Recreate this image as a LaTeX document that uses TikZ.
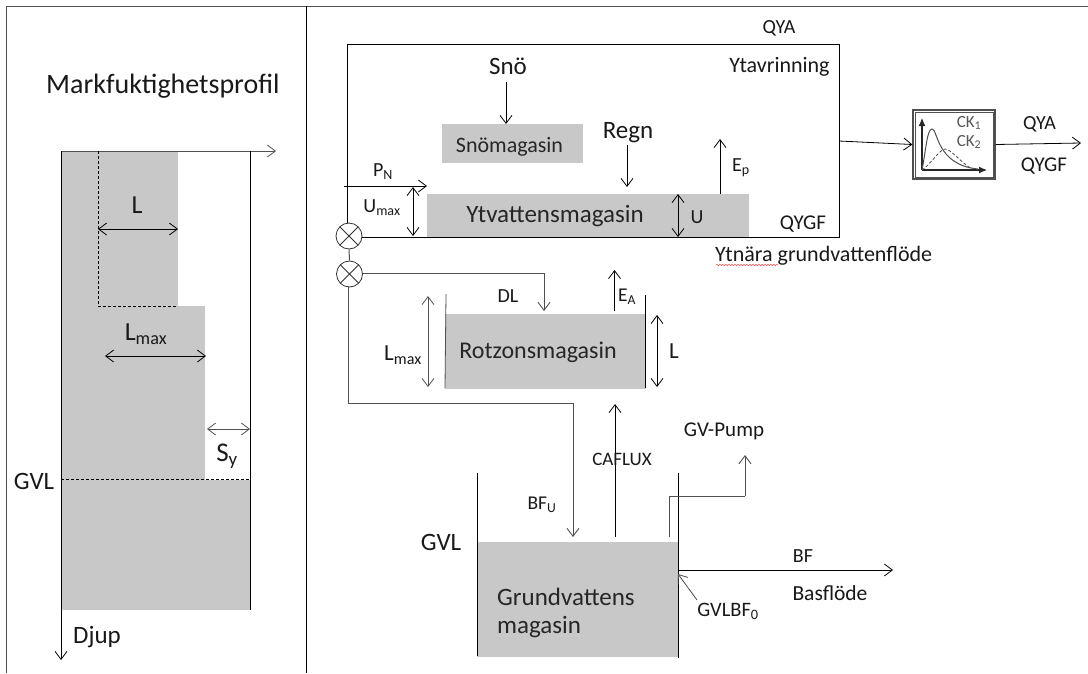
\documentclass[tikz,border=0pt]{standalone}
\usepackage{fontspec}
\setmainfont{Carlito}
\usetikzlibrary{arrows.meta,decorations.pathmorphing}
\definecolor{fillgray}{HTML}{C8C8C8}
\definecolor{linegray}{HTML}{505050}
\newcommand{\fs}[1]{\fontsize{#1}{#1}\selectfont}
\tikzset{
  x=1pt,y=-1pt,
  ln/.style={draw=black,line width=0.8pt},
  gln/.style={draw=linegray,line width=1pt},
  arr/.style={ln,-{Straight Barb[length=8pt,width=12pt,line width=0.8pt]}},
  darr/.style={ln,{Straight Barb[length=8pt,width=12pt,line width=0.8pt]}-{Straight Barb[length=8pt,width=12pt,line width=0.8pt]}},
  garr/.style={gln,-{Straight Barb[length=8pt,width=12pt,line width=0.9pt]}},
  store/.style={fill=fillgray,draw=none,inner sep=0pt,text=black!85},
  lab/.style={inner sep=0pt,text=black!90},
  mix/.style={circle,draw=black!80,line width=0.8pt,fill=white,minimum size=26pt,inner sep=0pt,
    path picture={\draw[black!80,line width=0.8pt]
      (path picture bounding box.north west)--(path picture bounding box.south east)
      (path picture bounding box.north east)--(path picture bounding box.south west);}},
}
\begin{document}
\begin{tikzpicture}
\useasboundingbox (0,0) rectangle (1088,673);
\fill[white] (0,0) rectangle (1088,673);
% frame
\coordinate (f1) at (6,673); \coordinate (f2) at (6,6); \coordinate (f3) at (1088,6);
\draw[linegray,line width=0.9pt] (f1)--(f2)--(f3);
\coordinate (d1) at (306,6); \coordinate (d2) at (306,673);
\draw[ln] (d1)--(d2);
% soil profile
\fill[fillgray] (61,151) rectangle (178,306);
\fill[fillgray] (61,306) rectangle (205,480);
\fill[fillgray] (61,480) rectangle (250,610);
\coordinate (pa) at (61,151); \coordinate (pb) at (276,151); \coordinate (pc) at (61,660);
\draw[arr,draw=linegray] (pa)--(pb);
\draw[arr] (pa)--(pc);
\coordinate (pr1) at (250,151); \coordinate (pr2) at (250,610);
\draw[ln] (pr1)--(pr2);
\coordinate (q1) at (98,151); \coordinate (q2) at (98,306); \coordinate (q3) at (178,306);
\draw[ln,densely dashed,line width=0.6pt] (q1)--(q2)--(q3);
\coordinate (g1) at (61,479); \coordinate (g2) at (250,479);
\draw[ln,densely dashed,line width=0.6pt] (g1)--(g2);
\coordinate (l1) at (98,229); \coordinate (l2) at (178,229);
\draw[darr] (l1)--(l2);
\coordinate (m1) at (105,356); \coordinate (m2) at (206,356);
\draw[darr] (m1)--(m2);
\coordinate (s1) at (207,429); \coordinate (s2) at (250,429);
\draw[darr,draw=linegray] (s1)--(s2);
\node[lab,anchor=base west,font=\fs{28}] (title) at (46,93) {Markfuktighetsprofil};
\node[lab,font=\fs{26}] (tL) at (137,205) {L};
\node[lab,font=\fs{26}] (tLm) at (146,334) {L\textsubscript{max}};
\node[lab,font=\fs{27}] (tSy) at (227,456) {S\textsubscript{y}};
\node[lab,font=\fs{25}] (tG) at (34,481) {GVL};
\node[lab,anchor=west,font=\fs{25}] (tD) at (73,637) {Djup};
% surface box
\node[store,minimum width=141pt,minimum height=39pt] (snomag) at (512.5,143.5) {};
\node[lab,font=\fs{22},text=black!85] (snotxt) at (509.5,147) {Snömagasin};
\node[store,minimum width=322pt,minimum height=43pt] (yt) at (588,215.5) {};
\node[lab,font=\fs{25},text=black!85] (yttxt) at (555,216) {Ytvattensmagasin};
\coordinate (b1) at (347,231); \coordinate (b2) at (347,44); \coordinate (b3) at (839,44); \coordinate (b4) at (839,237); \coordinate (b5) at (350,237);
\draw[ln,line width=0.9pt] (b1)--(b2)--(b3)--(b4)--(b5);
\node[mix] (x1) at (349,236) {};
\node[mix] (x2) at (349.5,274) {};
\draw[gln] (x1)--(x2);
\node[lab,font=\fs{20}] (qya) at (779,28) {QYA};
\node[lab,font=\fs{22}] (ytav) at (779.5,67) {Ytavrinning};
\node[lab,font=\fs{21}] (qygf) at (803,224) {QYGF};
\node[lab,anchor=west,font=\fs{22}] (ytn) at (715,256) {Ytnära grundvattenflöde};
\coordinate (wv1) at (716,265); \coordinate (wv2) at (778,265);
\draw[red!70,line width=0.5pt,decorate,decoration={snake,amplitude=0.7pt,segment length=3pt}] (wv1)--(wv2);
\node[lab,font=\fs{25}] (sno) at (508,66) {Snö};
\coordinate (sa) at (506,82); \coordinate (sb) at (506,124);
\draw[arr] (sa)--(sb);
\node[lab,font=\fs{25}] (regn) at (628,133) {Regn};
\coordinate (ra) at (627,145); \coordinate (rb) at (627,187);
\draw[arr] (ra)--(rb);
\coordinate (ea) at (720,194); \coordinate (eb) at (720,139);
\draw[arr] (ea)--(eb);
\node[lab,font=\fs{20}] (ep) at (741,168) {E\textsubscript{p}};
\coordinate (pna) at (344,186); \coordinate (pnb) at (427,186);
\draw[arr] (pna)--(pnb);
\node[lab,font=\fs{20}] (pn) at (383,172) {P\textsubscript{N}};
\node[lab,font=\fs{20}] (umax) at (382,208) {U\textsubscript{max}};
\coordinate (ua) at (413,187); \coordinate (ub) at (413,236);
\draw[darr] (ua)--(ub);
\coordinate (va) at (678,194); \coordinate (vb) at (678,237);
\draw[darr] (va)--(vb);
\node[lab,font=\fs{20}] (u) at (697,217) {U};
% root zone
\node[store,minimum width=201pt,minimum height=75pt] (rz) at (545,351) {};
\node[lab,font=\fs{24},text=black!85] (rztxt) at (538,352) {Rotzonsmagasin};
\coordinate (w1) at (446,294); \coordinate (w2) at (445,388);
\draw[ln,draw=linegray] (w1)--(w2);
\coordinate (w3) at (645.5,295); \coordinate (w4) at (645.5,388);
\draw[ln] (w3)--(w4);
\coordinate (dl1) at (544,273); \coordinate (dl2) at (544,311);
\draw[gln] (x2.east|-dl1)--(dl1);
\draw[garr] (dl1)--(dl2);
\node[lab,font=\fs{20}] (dl) at (508,296) {DL};
\coordinate (e2a) at (614.5,311); \coordinate (e2b) at (614.5,270);
\draw[arr] (e2a)--(e2b);
\node[lab,font=\fs{19.5}] (ea2) at (627,297) {E\textsubscript{A}};
\coordinate (lma) at (428,296); \coordinate (lmb) at (428,387);
\draw[darr,draw=linegray] (lma)--(lmb);
\node[lab,font=\fs{23}] (lmx) at (403,355) {L\textsubscript{max}};
\coordinate (la) at (657,315); \coordinate (lb) at (657,387);
\draw[darr] (la)--(lb);
\node[lab,font=\fs{23}] (ll) at (674,351) {L};
% bf_u
\coordinate (c0) at (348,287); \coordinate (c1) at (348,403); \coordinate (c2) at (573,403); \coordinate (c3) at (573,537);
\draw[gln] (c0)--(c1)--(c2);
\draw[garr] (c2)--(c3);
% groundwater
\node[store,minimum width=201pt,minimum height=115pt] (gw) at (577.5,599.5) {};
\node[lab,anchor=west,font=\fs{25},text=black!85] (g1t) at (497,597) {Grundvattens};
\node[lab,anchor=west,font=\fs{25},text=black!85] (g2t) at (497,627) {magasin};
\coordinate (gl1) at (477,473); \coordinate (gl2) at (477,656);
\draw[ln] (gl1)--(gl2);
\coordinate (gr1) at (678,473); \coordinate (gr2) at (678,658);
\draw[ln] (gr1)--(gr2);
\node[lab,font=\fs{19.5}] (bfu) at (542,505) {BF\textsubscript{U}};
\node[lab,font=\fs{25}] (gvl2) at (441,542) {GVL};
\coordinate (ca) at (615,537); \coordinate (cb) at (615,404);
\draw[arr] (ca)--(cb);
\node[lab,font=\fs{19}] (caf) at (622,459) {CAFLUX};
\coordinate (pu1) at (669,537); \coordinate (pu2) at (669,496); \coordinate (pu3) at (745,496); \coordinate (pu4) at (745,455);
\draw[gln] (pu1)--(pu2)--(pu3);
\draw[garr] (pu3)--(pu4);
\node[lab,font=\fs{21}] (gvp) at (724,431) {GV-Pump};
\coordinate (bf1) at (679,570); \coordinate (bf2) at (893,570);
\draw[arr] (bf1)--(bf2);
\node[lab,font=\fs{20}] (bf) at (803,556) {BF};
\node[lab,font=\fs{21.5}] (bas) at (830,593) {Basflöde};
\coordinate (gb1) at (697,600); \coordinate (gb2) at (678,574);
\draw[arr,draw=black!70] (gb1)--(gb2);
\node[lab,font=\fs{20.5}] (gvb) at (728,611) {GVLBF\textsubscript{0}};
% routing icon
\node[draw=linegray,line width=1.2pt,fill=white,minimum width=82pt,minimum height=69pt,inner sep=0pt] (ck) at (954,144.5) {};
\node[draw=linegray,line width=0.8pt,minimum width=78pt,minimum height=65pt,inner sep=0pt] (cki) at (954,144.5) {};
\coordinate (ax0) at (922,170); \coordinate (ax1) at (922,118); \coordinate (ax2) at (987,170);
\draw[black!85,line width=1.1pt,-{Latex[length=8pt,width=7pt]}] (ax0)--(ax1);
\draw[black!85,line width=1.1pt,-{Latex[length=8pt,width=7pt]}] (ax0)--(ax2);
\draw[linegray,line width=1pt] (ax0) .. controls (926,150) and (927,129) .. (932,129) .. controls (938,129) and (936,165) .. (978,169);
\draw[linegray,line width=0.8pt,densely dashed] (ax0) .. controls (930,165) and (940,149) .. (945,149) .. controls (951,149) and (960,162) .. (972,169);
\node[lab,font=\fs{17},text=black!65] (ck1) at (969,123) {CK\textsubscript{1}};
\node[lab,font=\fs{17},text=black!65] (ck2) at (969,142) {CK\textsubscript{2}};
\coordinate (ci) at (839,141);
\draw[arr] (ci)--(ck.west);
\coordinate (ob) at (1081,143);
\draw[arr] (ck.east)--(ob);
\node[lab,font=\fs{20}] (o1) at (1039.5,124) {QYA};
\node[lab,font=\fs{21}] (o2) at (1044,166) {QYGF};
\end{tikzpicture}
\end{document}
